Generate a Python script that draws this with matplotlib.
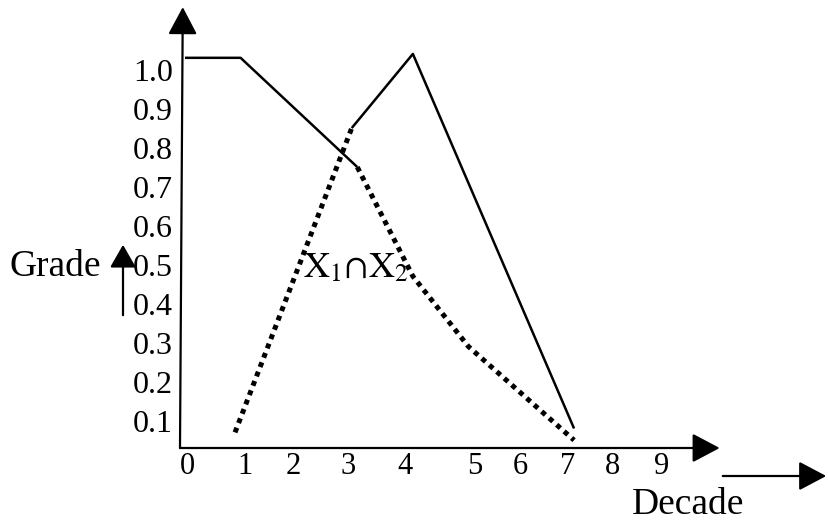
import matplotlib.pyplot as plt

plt.rcParams['font.family'] = ['Liberation Serif', 'DejaVu Serif']
plt.rcParams['mathtext.fontset'] = 'stix'

# membership grades
x1 = [0, 1, 3.1, 4.1, 5.1, 7.0]
y1 = [1.0, 1.0, 0.72, 0.44, 0.26, 0.02]
x2 = [0.9, 3.0, 4.1, 7.0]
y2 = [0.04, 0.82, 1.01, 0.05]

x_labels = ['0', '1', '2', '3', '4', '5', '6', '7', '8', '9']
y_labels = ['1.0', '0.9', '0.8', '0.7', '0.6', '0.5', '0.4', '0.3', '0.2', '0.1']

# label positions as drawn (not evenly spaced in the scan)
x_label_pos = [0.05, 1.08, 1.94, 2.93, 3.96, 5.22, 6.03, 6.89, 7.70, 8.58]
y_label_pos = [float(l) - 0.03 for l in y_labels]

fig = plt.figure(figsize=(8.29, 5.23), dpi=100)
ax = fig.add_axes([180 / 829, 75 / 523, 533 / 829, 437 / 523])
ax.set_xlim(-0.09, 9.5)
ax.set_ylim(0, 1.12)
for s in ax.spines.values():
    s.set_visible(False)

# X1 solid until the crossing, then its dotted part forms X1 ∩ X2
ax.plot(x1[:3], y1[:3], color='black', lw=1.8, solid_capstyle='butt')
ax.plot(x1[2:], y1[2:], color='black', lw=3.6, linestyle=(0, (1, 1)))
# X2 dotted on the rising side, solid afterwards
ax.plot(x2[:2], y2[:2], color='black', lw=3.6, linestyle=(0, (1, 1)))
ax.plot(x2[1:], y2[1:], color='black', lw=1.8, solid_capstyle='butt')

ax.set_xticks(x_label_pos)
ax.set_xticklabels(x_labels, fontsize=22)
ax.set_yticks(y_label_pos)
ax.set_yticklabels(y_labels, fontsize=23)
ax.tick_params(length=0, pad=3)
ax.tick_params(axis='y', pad=5)

arrow = dict(arrowstyle='-|>,head_length=1.7,head_width=0.9', mutation_scale=10,
             lw=1.6, color='black', shrinkA=0, shrinkB=0)
ax.annotate('', xy=(-0.04, 1.13), xytext=(-0.09, 0), arrowprops=arrow,
            annotation_clip=False)
ax.annotate('', xy=(9.62, 0), xytext=(-0.09, 0), arrowprops=arrow,
            annotation_clip=False)

ax.text(2.12, 0.46, r'$\mathrm{X}_1\!\cap\!\mathrm{X}_2$', fontsize=26,
        va='center', ha='left')

fig.text(10 / 829, 256 / 523, 'Grade', fontsize=27, va='center', ha='left')
fig.add_artist(plt.matplotlib.patches.FancyArrowPatch(
    (123, 205), (123, 281), transform=None,
    arrowstyle='-|>,head_length=1.4,head_width=0.8', mutation_scale=10,
    lw=1.6, color='black'))
fig.text(688 / 829, 18 / 523, 'Decade', fontsize=27, va='center', ha='center')
fig.add_artist(plt.matplotlib.patches.FancyArrowPatch(
    (720, 47), (829, 47), transform=None,
    arrowstyle='-|>,head_length=1.7,head_width=0.9', mutation_scale=10,
    lw=1.6, color='black'))

fig.savefig('out.png', dpi=100)
